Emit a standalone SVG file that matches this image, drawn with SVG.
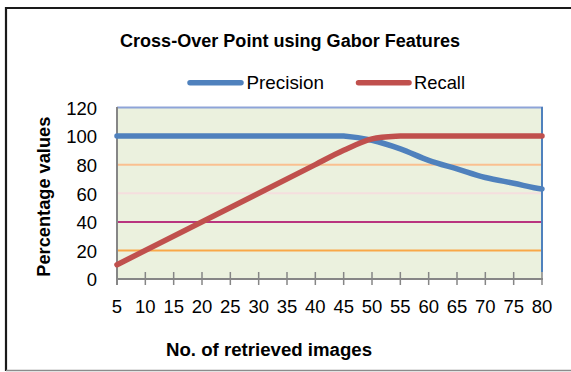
<svg xmlns="http://www.w3.org/2000/svg" width="571" height="372" viewBox="0 0 571 372">
  <style>
    .lbl { font-family: "Liberation Sans", Arial, sans-serif; font-size: 18.5px; fill: #000; }
    .bold { font-family: "Liberation Sans", Arial, sans-serif; font-weight: bold; font-size: 17.5px; fill: #000; }
    .grid { fill: none; stroke-width: 2; }
    .axis { stroke: #868686; stroke-width: 2; fill: none; }
    .tick { stroke: #868686; stroke-width: 1.5; }
    .series { fill: none; stroke-width: 5.5; stroke-linecap: round; stroke-linejoin: round; }
    .prec { stroke: #4F81BD; }
    .rec { stroke: #C0504D; }
  </style>

  <!-- chart frame -->
  <rect x="0" y="0" width="571" height="372" fill="#ffffff"/>
  <g id="frame">
    <line x1="6" y1="8" x2="571" y2="8" stroke="#1a1a1a" stroke-width="2"/>
    <line x1="6" y1="7" x2="6" y2="371" stroke="#1a1a1a" stroke-width="2.2"/>
    <line x1="6" y1="370.5" x2="571" y2="370.5" stroke="#8c8c8c" stroke-width="1.5"/>
  </g>

  <!-- title -->
  <g id="title">
    <text class="bold" x="290" y="47.3" text-anchor="middle" textLength="340" lengthAdjust="spacingAndGlyphs">Cross-Over Point using Gabor Features</text>
  </g>

  <!-- legend -->
  <g id="legend">
    <line class="series prec" x1="190" y1="82.7" x2="241" y2="82.7"/>
    <text class="lbl" x="246.5" y="89" textLength="77.5" lengthAdjust="spacingAndGlyphs">Precision</text>
    <line class="series rec" x1="358.5" y1="82.7" x2="409" y2="82.7"/>
    <text class="lbl" x="414" y="89" textLength="51" lengthAdjust="spacingAndGlyphs">Recall</text>
  </g>

  <!-- plot area -->
  <g id="plot-area">
    <rect x="117" y="107.5" width="425" height="171.5" fill="#EBF1DE"/>
    <line class="grid" x1="117" y1="164.7" x2="542" y2="164.7" stroke="#FAC090"/>
    <line class="grid" x1="117" y1="193.3" x2="542" y2="193.3" stroke="#F5DEDE"/>
    <line class="grid" x1="117" y1="221.9" x2="542" y2="221.9" stroke="#B9357F" stroke-width="1.6"/>
    <line class="grid" x1="117" y1="250.5" x2="542" y2="250.5" stroke="#F9A848"/>
    <line x1="117" y1="107.5" x2="543" y2="107.5" stroke="#8EA4D8" stroke-width="2"/>
    <line x1="542" y1="107" x2="542" y2="272" stroke="#4F81BD" stroke-width="2"/>
  </g>

  <!-- axes -->
  <g id="axes">
    <line class="axis" x1="117" y1="107" x2="117" y2="285"/>
    <line class="axis" x1="116" y1="279" x2="543" y2="279"/>
    <g class="tick">
      <line x1="145.33" y1="272" x2="145.33" y2="285"/>
      <line x1="173.67" y1="272" x2="173.67" y2="285"/>
      <line x1="202" y1="272" x2="202" y2="285"/>
      <line x1="230.33" y1="272" x2="230.33" y2="285"/>
      <line x1="258.67" y1="272" x2="258.67" y2="285"/>
      <line x1="287" y1="272" x2="287" y2="285"/>
      <line x1="315.33" y1="272" x2="315.33" y2="285"/>
      <line x1="343.67" y1="272" x2="343.67" y2="285"/>
      <line x1="372" y1="272" x2="372" y2="285"/>
      <line x1="400.33" y1="272" x2="400.33" y2="285"/>
      <line x1="428.67" y1="272" x2="428.67" y2="285"/>
      <line x1="457" y1="272" x2="457" y2="285"/>
      <line x1="485.33" y1="272" x2="485.33" y2="285"/>
      <line x1="513.67" y1="272" x2="513.67" y2="285"/>
      <line x1="542" y1="272" x2="542" y2="285"/>
    </g>
  </g>

  <!-- y-axis values -->
  <g id="y-labels" class="lbl" text-anchor="end">
    <text x="97" y="114.7">120</text>
    <text x="97" y="143.3">100</text>
    <text x="97" y="171.9">80</text>
    <text x="97" y="200.5">60</text>
    <text x="97" y="229.1">40</text>
    <text x="97" y="257.7">20</text>
    <text x="97" y="286.3">0</text>
  </g>

  <!-- x-axis values -->
  <g id="x-labels" class="lbl" text-anchor="middle">
    <text x="117" y="313">5</text>
    <text x="145.33" y="313">10</text>
    <text x="173.67" y="313">15</text>
    <text x="202" y="313">20</text>
    <text x="230.33" y="313">25</text>
    <text x="258.67" y="313">30</text>
    <text x="287" y="313">35</text>
    <text x="315.33" y="313">40</text>
    <text x="343.67" y="313">45</text>
    <text x="372" y="313">50</text>
    <text x="400.33" y="313">55</text>
    <text x="428.67" y="313">60</text>
    <text x="457" y="313">65</text>
    <text x="485.33" y="313">70</text>
    <text x="513.67" y="313">75</text>
    <text x="542" y="313">80</text>
  </g>

  <!-- axis titles -->
  <g id="axis-titles">
    <text class="bold" x="0" y="0" text-anchor="middle" transform="translate(50,196.7) rotate(-90)" textLength="160" lengthAdjust="spacingAndGlyphs">Percentage values</text>
    <text class="bold" x="269" y="356" text-anchor="middle" textLength="206" lengthAdjust="spacingAndGlyphs">No. of retrieved images</text>
  </g>

  <!-- data series -->
  <g id="series">
    <path id="precision" class="series prec" d="M117,136 L343.67,136 C353.11,136.72 362.56,138.15 372,140.3 C381.44,142.45 390.89,145.57 400.33,148.9 C409.77,152.23 419.23,156.97 428.67,160.3 C438.11,163.63 447.56,166.03 457,168.9 C466.44,171.77 475.89,175.12 485.33,177.5 C494.78,179.88 504.22,181.3 513.67,183.2 C523.11,185.1 532.56,187.95 542,188.9"/>
    <path id="recall" class="series rec" d="M117,264.7 L315.33,164.6 C324.77,159.83 334.23,154.58 343.67,150.3 C353.11,146.02 362.56,141.28 372,138.9 C381.44,136.52 390.89,136.48 400.33,136 L542,136"/>
  </g>
</svg>
